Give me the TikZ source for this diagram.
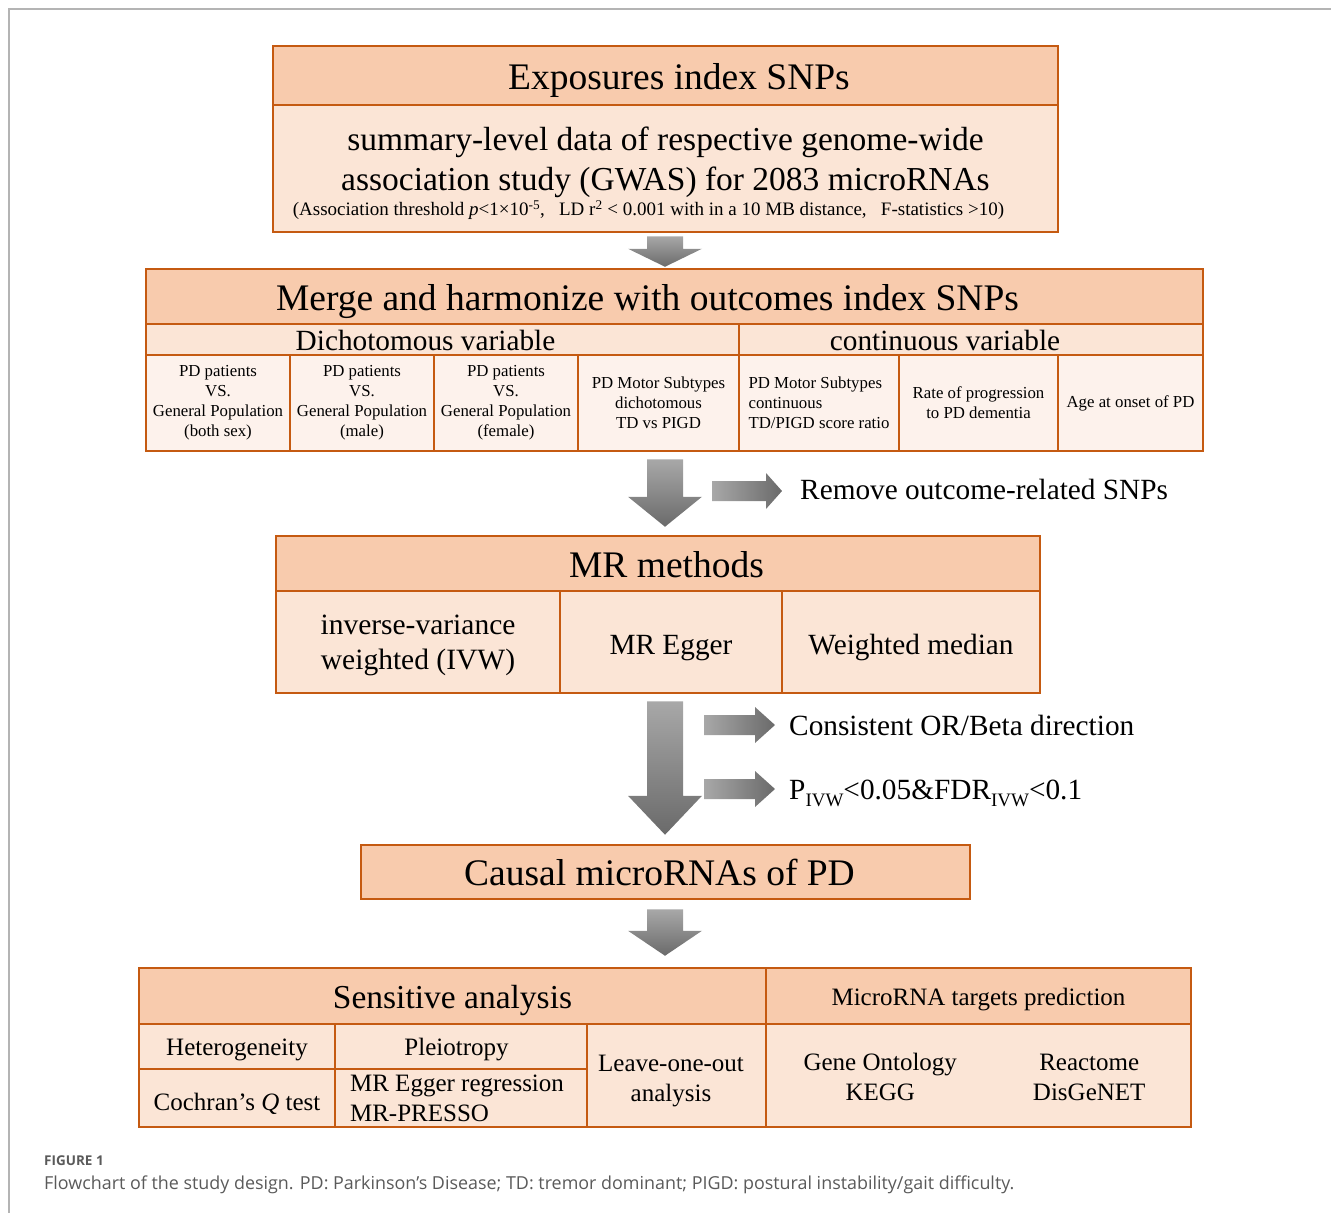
\documentclass[tikz,border=0pt]{standalone}
\usepackage{fontspec}
\setmainfont{Liberation Serif}
\newfontfamily\capfont{Open Sans}
\usetikzlibrary{calc}

\definecolor{boxline}{HTML}{C55A11}
\definecolor{hdrfill}{HTML}{F8CBAD}
\definecolor{bodyfill}{HTML}{FBE5D6}
\definecolor{cellfill}{HTML}{FDF2EC}
\definecolor{arrowlight}{HTML}{A8A8A8}
\definecolor{arrowdark}{HTML}{6A6A6A}
\definecolor{framegray}{HTML}{B4B4B4}
\definecolor{captiongray}{HTML}{5A5A5A}

\tikzset{
  box/.style={draw=boxline, line width=2.5pt, inner sep=0pt, align=center},
  hdr/.style={box, fill=hdrfill},
  bodybox/.style={box, fill=bodyfill},
  cellbox/.style={box, fill=cellfill},
  huge text/.style={font=\fontsize{37.5}{45}\selectfont, text height=27.5pt, text depth=0pt},
  large text/.style={font=\fontsize{33.5}{40}\selectfont, text height=24.5pt, text depth=0pt},
  mid text/.style={font=\fontsize{29.3}{35}\selectfont, text height=21.4pt, text depth=0pt},
  small text/.style={font=\fontsize{25}{30}\selectfont, text height=18.3pt, text depth=0pt},
  arrowdown/.style={top color=arrowlight, bottom color=arrowdark, draw=none},
  arrowright/.style={left color=arrowlight, right color=arrowdark, draw=none},
  sidetext/.style={anchor=west, inner sep=0pt, font=\fontsize{29.3}{35}\selectfont},
}

% block arrow downwards: from node, to node, top gap, bottom gap, head length
\newcommand{\downblock}[5]{%
  \coordinate (db-a) at ($(axis |- #1.south)+(0,#3)$);
  \coordinate (db-b) at ($(axis |- #2.north)+(0,-#4)$);
  \shade[arrowdown] ($(db-a)+(-18,0)$) -- ($(db-a)+(18,0)$) -- ($(db-b)+(18,-#5)$)
    -- ($(db-b)+(37,-#5)$) -- (db-b) -- ($(db-b)+(-37,-#5)$) -- ($(db-b)+(-18,-#5)$) -- cycle;
}
% block arrow to the right: start coordinate, to node, gap, head length
\newcommand{\rightblock}[4]{%
  \coordinate (rb-b) at ($(#2.west |- #1)+(-#3,0)$);
  \shade[arrowright] ($(#1)+(0,-10)$) -- ($(rb-b)+(-#4,-10)$) -- ($(rb-b)+(-#4,-18)$) -- (rb-b)
    -- ($(rb-b)+(-#4,18)$) -- ($(rb-b)+(-#4,10)$) -- ($(#1)+(0,10)$) -- cycle;
}
\newcommand{\ivwsub}{\raisebox{-7pt}{\fontsize{19}{19}\selectfont IVW}}

\begin{document}
\begin{tikzpicture}[x=1pt, y=-1pt]
  \useasboundingbox (0,0) rectangle (1331,1213);
  \draw[framegray, line width=2pt] (9,1213) -- (9,9) -- (1331,9);
  \coordinate (axis) at (665,0);

  % exposures
  \node[hdr, huge text, minimum width=785pt, minimum height=59pt] (exphead) at (665.5,75.5) {\rule{27pt}{0pt}Exposures index SNPs};
  \node[bodybox, minimum width=785pt, minimum height=127pt, font=\fontsize{33.5}{40}\selectfont] (gwas) at (665.5,168.5)
    {\rule{0pt}{33.5pt}summary-level data of respective genome-wide\\association study (GWAS) for 2083 microRNAs\\[-15pt]{\fontsize{19}{23}\selectfont (Association threshold \textit{p}<1×10\textsuperscript{-5},\ \ \ LD r\textsuperscript{2} < 0.001 with in a 10 MB distance,\ \ \ F-statistics >10)\rule{34pt}{0pt}}};

  % outcomes
  \node[hdr, huge text, minimum width=1057pt, minimum height=55pt] (merge) at (674.5,296.5) {Merge and harmonize with outcomes index SNPs\rule{54pt}{0pt}};
  \node[bodybox, mid text, minimum width=593pt, minimum height=31pt] (dich) at (442.5,339.5) {Dichotomous variable\rule{34pt}{0pt}};
  \node[bodybox, mid text, minimum width=464pt, minimum height=31pt] (cont) at (971,339.5) {continuous variable\rule{52pt}{0pt}};
  \begin{scope}[every node/.append style={cellbox, minimum height=96pt, font=\fontsize{16.8}{20}\selectfont}]
    \node[minimum width=144pt] (both) at (218,403) {PD patients\\VS.\\General Population\\(both sex)};
    \node[minimum width=144pt] (male) at (362,403) {PD patients\\VS.\\General Population\\(male)};
    \node[minimum width=144pt] (female) at (506,403) {PD patients\\VS.\\General Population\\(female)};
    \node[minimum width=161pt] (motordich) at (658.5,403) {PD Motor Subtypes\\dichotomous\\TD vs PIGD};
    \node[minimum width=160pt, align=left] (motorcont) at (819,403) {PD Motor Subtypes\\continuous\\TD/PIGD score ratio};
    \node[minimum width=159pt] (dementia) at (978.5,403) {Rate of progression\\to PD dementia};
    \node[minimum width=145pt] (onset) at (1130.5,403) {Age at onset of PD};
  \end{scope}

  % MR methods
  \node[hdr, huge text, minimum width=764pt, minimum height=55pt] (mrhead) at (658,563.5) {\rule{17pt}{0pt}MR methods};
  \begin{scope}[every node/.append style={bodybox, minimum height=102pt}]
    \node[minimum width=284pt, font=\fontsize{29.5}{35}\selectfont, text depth=0pt] (ivw) at (418,642) {inverse-variance\\weighted (IVW)};
    \node[mid text, text height=25pt, minimum width=222pt] (egger) at (671,642) {MR Egger};
    \node[mid text, text height=25pt, minimum width=258pt] (wmedian) at (911,642) {Weighted median};
  \end{scope}

  % causal
  \node[hdr, huge text, minimum width=609pt, minimum height=54pt] (causal) at (665.5,872) {Causal microRNAs of PD\rule{12pt}{0pt}};

  % sensitive analysis and targets
  \node[hdr, large text, minimum width=627pt, minimum height=56pt] (senshead) at (452.5,996) {Sensitive analysis};
  \node[hdr, small text, minimum width=425pt, minimum height=56pt] (tgthead) at (978.5,996) {MicroRNA targets prediction};
  \begin{scope}[every node/.append style={bodybox}]
    \node[small text, minimum width=196pt, minimum height=45pt] (hetero) at (237,1046.5) {Heterogeneity};
    \node[small text, minimum width=252pt, minimum height=45pt] (pleio) at (461,1046.5) {Pleiotropy\rule{9pt}{0pt}};
    \node[small text, text height=25pt, minimum width=196pt, minimum height=58pt] (cochran) at (237,1098) {Cochran’s \textit{Q} test};
    \node[font=\fontsize{25}{30}\selectfont, minimum width=252pt, minimum height=58pt, align=left] (presso) at (461,1098) {MR Egger regression\rule{8pt}{0pt}\\MR-PRESSO};
    \node[font=\fontsize{25}{30}\selectfont, text depth=0pt, minimum width=179pt, minimum height=103pt] (loo) at (676.5,1075.5) {\rule{0pt}{22pt}Leave-one-out\rule{11pt}{0pt}\\analysis\rule{11pt}{0pt}};
    \node[font=\fontsize{25}{30}\selectfont, minimum width=425pt, minimum height=103pt] (tgtbody) at (978.5,1075.5)
      {\begin{tabular}{@{}c@{\hspace{76pt}}c@{}}\rule{0pt}{29pt}Gene Ontology & Reactome\\KEGG & DisGeNET\end{tabular}\rule{8pt}{0pt}};
  \end{scope}

  % arrows
  \downblock{gwas}{merge}{3}{1}{18}
  \downblock{motordich}{mrhead}{7}{8}{30}
  \downblock{egger}{causal}{7}{9}{39}
  \downblock{causal}{senshead}{9}{11}{25}

  \node[sidetext] (remove) at (800,489) {Remove outcome-related SNPs};
  \node[sidetext] (direction) at (789,725) {Consistent OR/Beta direction};
  \node[sidetext] (pvalue) at (789,793) {P\ivwsub<0.05\&FDR\ivwsub<0.1};
  \coordinate (r1) at (712,491);
  \coordinate (r2) at (704,725);
  \coordinate (r3) at (704,789);
  \rightblock{r1}{remove}{18}{16}
  \rightblock{r2}{direction}{14}{20}
  \rightblock{r3}{pvalue}{14}{20}

  % caption
  \node[anchor=base west, inner sep=0pt, text=captiongray, font=\capfont\bfseries\fontsize{13.5}{16}\selectfont] (figlabel) at (44,1165) {FIGURE 1};
  \node[anchor=base west, inner sep=0pt, text=captiongray, font=\capfont\fontsize{17.9}{21}\selectfont] (figtext) at (44,1189) {Flowchart of the study design. PD: Parkinson’s Disease; TD: tremor dominant; PIGD: postural instability/gait difficulty.};
\end{tikzpicture}
\end{document}
